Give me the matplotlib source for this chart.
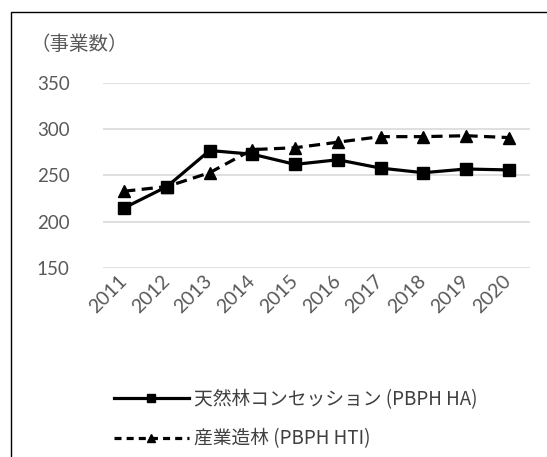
import matplotlib.pyplot as plt
import matplotlib.patches as patches
import numpy as np

plt.rcParams['font.family'] = ['Noto Sans CJK JP', 'DejaVu Sans']

years = ["2011", "2012", "2013", "2014", "2015", "2016", "2017", "2018", "2019", "2020"]
ha_counts = [215, 238, 277, 273, 262, 267, 258, 253, 257, 256]
hti_counts = [233, 238, 253, 278, 280, 286, 292, 292, 293, 291]
yticks = [150, 200, 250, 300, 350]

label_ha = "天然林コンセッション (PBPH HA)"
label_hti = "産業造林 (PBPH HTI)"

fig = plt.figure(figsize=(5.47, 4.57), dpi=100)
ax = fig.add_axes([0.188, 0.4136, 0.781, 0.4048])

# outer frame of the chart box
fig.patches.append(patches.Rectangle((11 / 547, -0.1), 2.0, 1.1 - 12 / 457,
                                     transform=fig.transFigure, fill=False,
                                     edgecolor='black', linewidth=1.0))

x = np.arange(len(years))
ax.plot(x, ha_counts, color='black', linewidth=2.3, marker='s', markersize=9,
        label=label_ha, zorder=3)
ax.plot(x, hti_counts, color='black', linewidth=2.3, linestyle=(0, (3.5, 2)),
        marker='^', markersize=9, label=label_hti, zorder=3)

ax.set_xlim(-0.5, len(years) - 0.5)
ax.set_ylim(150, 350)
ax.set_yticks(yticks)
ax.set_xticks(x)
ax.set_xticklabels(years, rotation=45, ha='right', va='center',
                   rotation_mode='anchor', fontsize=14, color='#595959',
                   family=['Lato', 'DejaVu Sans'])
for lbl in ax.get_yticklabels():
    lbl.set_fontsize(13.5)
    lbl.set_color('#595959')
    lbl.set_family(['Lato', 'DejaVu Sans'])
ax.tick_params(axis='both', length=0)
ax.tick_params(axis='y', pad=24)
ax.tick_params(axis='x', pad=7)
ax.grid(axis='y', color='#d9d9d9', linewidth=1.2)
ax.set_axisbelow(True)
for s in ax.spines.values():
    s.set_visible(False)

fig.text(30 / 547, 1 - 44 / 457, "（事業数）", fontsize=14, color='#595959',
         va='center', ha='left')

leg = fig.legend(loc='upper left', bbox_to_anchor=(97 / 547, 1 - 372 / 457),
                 frameon=False, fontsize=13.5, handlelength=4.0, labelspacing=1.0,
                 labelcolor='#404040', markerscale=0.65, handletextpad=0.3)
leg.legend_handles[1].set_dashes((2.2, 1.6))

fig.savefig("out.png", dpi=100)
